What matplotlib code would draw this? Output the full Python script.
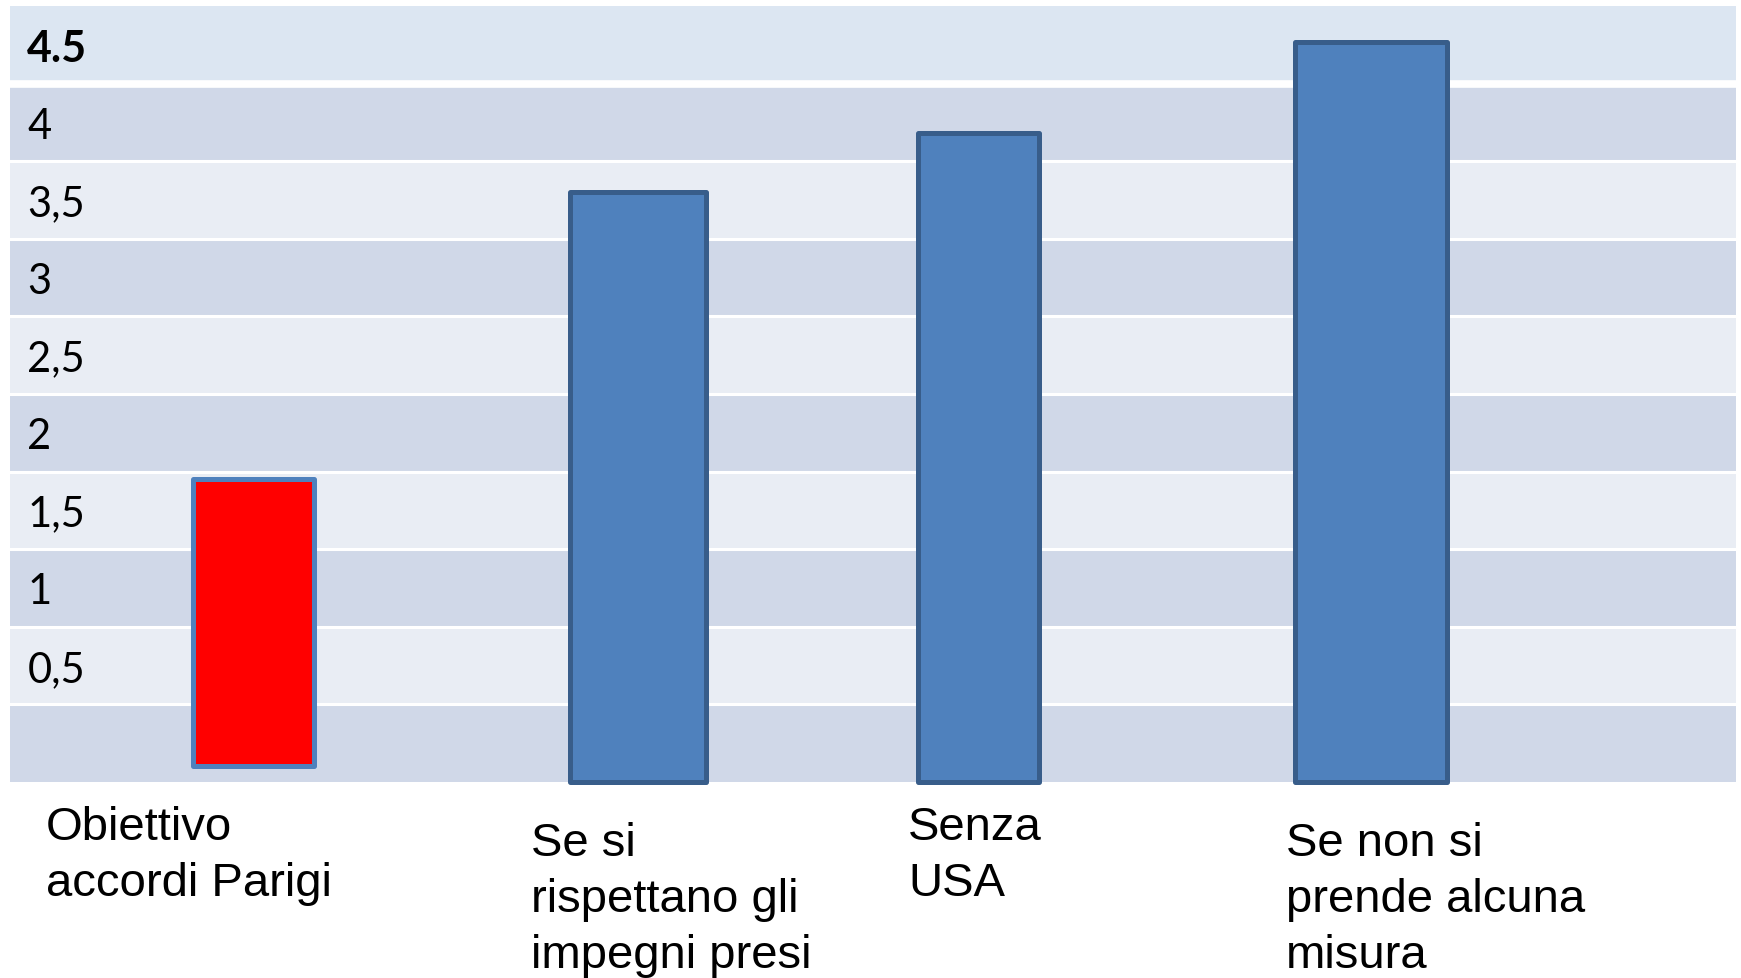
import matplotlib.pyplot as plt

# data
categories = ["Obiettivo\naccordi Parigi", "Se si\nrispettano gli\nimpegni presi",
              "Senza\nUSA", "Se non si\nprende alcuna\nmisura"]
values = [1.95, 3.80, 4.18, 4.77]
bottoms = [0.10, 0.0, 0.0, 0.0]
row_labels = ["4.5", "4", "3,5", "3", "2,5", "2", "1,5", "1", "0,5", ""]

# layout / style
bar_x = [0.1408, 0.3641, 0.5614, 0.7888]
bar_w = [0.0701, 0.0788, 0.0701, 0.0881]
fills = ["#FF0000", "#4F81BD", "#4F81BD", "#4F81BD"]
edges = ["#4F81BD", "#385D8A", "#385D8A", "#385D8A"]
label_pos = [(46, 806), (531, 822), (908, 806), (1286, 822)]  # px, top-left
row_colors = ["#DCE6F2"] + ["#D0D8E8", "#E9EDF4"] * 4 + ["#D0D8E8"]

W, H = 1741, 979
fig = plt.figure(figsize=(W / 100, H / 100), dpi=100)
ax = fig.add_axes([10 / W, 1 - 783 / H, 1726 / W, 776 / H])
ax.set_xlim(0, 1)
ax.set_ylim(0, 5)
ax.axis("off")

# table rows
n = len(row_labels)
for i in range(n):
    top = 5 - 0.5 * i
    ax.axhspan(top - 0.5, top, color=row_colors[i], lw=0, zorder=0)
    lab = row_labels[i]
    if lab:
        ax.text(0.010, top - 0.27, lab, va="center", ha="left",
                fontsize=31 if i == 0 else 30, family="Lato",
                fontweight="bold" if i == 0 else "normal", zorder=1)
for i in range(1, n):
    ax.axhline(5 - 0.5 * i, color="white", lw=5.5 if i == 1 else 2.2, zorder=0.5)

# bars
for i in range(len(values)):
    ax.bar(bar_x[i], values[i] - bottoms[i], bottom=bottoms[i], width=bar_w[i],
           color=fills[i], edgecolor=edges[i], linewidth=3.6,
           joinstyle="round", zorder=3, clip_on=False)

# category labels
for i, c in enumerate(categories):
    x, y = label_pos[i]
    fig.text(x / W, 1 - y / H, c, ha="left", va="top", fontsize=34,
             family="Liberation Sans", linespacing=1.36)

fig.savefig("out.png", dpi=100)
